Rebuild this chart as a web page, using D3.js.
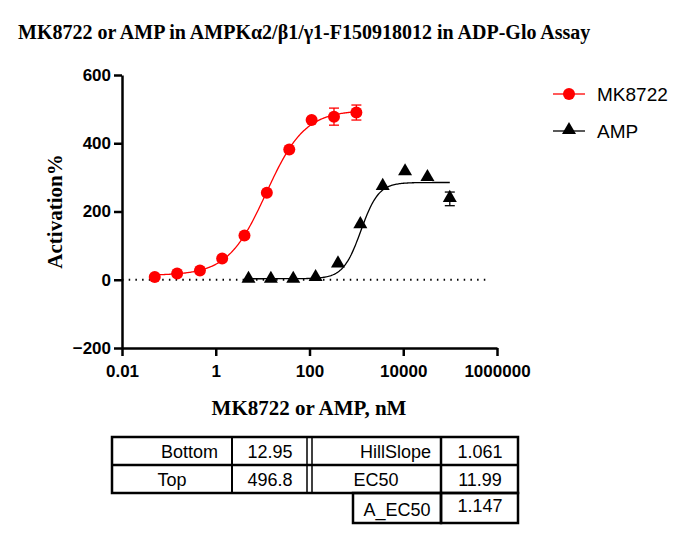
<!DOCTYPE html><html><head><meta charset="utf-8"><script src="https://cdn.jsdelivr.net/npm/d3@7"></script>
<style>body{margin:0;background:#fff}</style></head><body><svg width="691" height="547"></svg><script>
const redX=[0.05,0.15,0.46,1.37,4.1,12.3,37,111,333,1000];
const redY=[8,18,27,62,130,255,382,468,478,490];
const redErr=[0,0,0,0,0,0,0,0,25,22];
const ampX=[5,15,45,135,405,1215,3645,10935,32805,98415];
const ampY=[0,0,0,5,45,160,272,315,298,237];
const ampErr=[0,0,0,0,0,0,0,0,0,20];
const redFit={bottom:12.95,top:496.8,ec50:11.99,hill:1.061};
const ampFit={bottom:3,top:285,ec50:1250,hill:2.3};
const xTicks=[0.01,1,100,10000,1000000];
const yTicks=[-200,0,200,400,600];
const tableRows=[["Bottom","12.95","HillSlope","1.061"],["Top","496.8","EC50","11.99"]];
const extra=["A_EC50","1.147"];
const svg=d3.select("svg");
const x=d3.scaleLog().domain([0.01,1e6]).range([122,497]);
const y=d3.scaleLinear().domain([-200,600]).range([348,75]);
svg.append("text").attr("x",18).attr("y",39).attr("font-family","Liberation Serif").attr("font-weight","bold").attr("font-size",20).text("MK8722 or AMP in AMPKα2/β1/γ1-F150918012 in ADP-Glo Assay");
const ax=svg.append("g").attr("transform","translate(0,348)").call(d3.axisBottom(x).tickValues(xTicks).tickFormat(d=>String(d)).tickSize(8).tickSizeOuter(0));
const ay=svg.append("g").attr("transform","translate(122,0)").call(d3.axisLeft(y).tickValues(yTicks).tickSize(8).tickSizeOuter(0));
[ax,ay].forEach(g=>{g.selectAll("path,line").attr("stroke","#000").attr("stroke-width",2.5);g.selectAll("text").attr("font-family","Liberation Sans").attr("font-weight","bold").attr("font-size",17).attr("fill","#000");});
ax.selectAll("text").attr("dy","1.05em");
svg.append("line").attr("x1",122).attr("x2",490).attr("y1",y(0)).attr("y2",y(0)).attr("stroke","#000").attr("stroke-width",2).attr("stroke-dasharray","1.5,5.2");
svg.append("text").attr("transform","translate(62,"+y(200)+") rotate(-90)").attr("text-anchor","middle").attr("font-family","Liberation Serif").attr("font-weight","bold").attr("font-size",21).text("Activation%");
svg.append("text").attr("x",309).attr("y",415).attr("text-anchor","middle").attr("font-family","Liberation Serif").attr("font-weight","bold").attr("font-size",21).text("MK8722 or AMP, nM");
function curve(f,x0,x1,col){const pts=d3.range(0,201).map(i=>{const lx=Math.log10(x0)+(Math.log10(x1)-Math.log10(x0))*i/200;const xv=10**lx;return [x(xv),y(f.bottom+(f.top-f.bottom)/(1+10**((Math.log10(f.ec50)-lx)*f.hill)))];});
svg.append("path").attr("d",d3.line()(pts)).attr("fill","none").attr("stroke",col).attr("stroke-width",1.3);}
curve(redFit,0.05,1000,"#f00");curve(ampFit,5,98415,"#000");
function errs(X,Y,E,col){X.forEach((xv,i)=>{if(!E[i])return;const g=svg.append("g").attr("stroke",col).attr("stroke-width",1.3);g.append("line").attr("x1",x(xv)).attr("x2",x(xv)).attr("y1",y(Y[i]-E[i])).attr("y2",y(Y[i]+E[i]));[Y[i]-E[i],Y[i]+E[i]].forEach(v=>g.append("line").attr("x1",x(xv)-5).attr("x2",x(xv)+5).attr("y1",y(v)).attr("y2",y(v)));});}
errs(redX,redY,redErr,"#f00");errs(ampX,ampY,ampErr,"#000");
svg.selectAll(".r").data(redX).enter().append("circle").attr("cx",d=>x(d)).attr("cy",(d,i)=>y(redY[i])).attr("r",6).attr("fill","#f00");
const tri=d3.symbol().type(d3.symbolTriangle).size(85);
svg.selectAll(".a").data(ampX).enter().append("path").attr("d",tri).attr("transform",(d,i)=>`translate(${x(d)},${y(ampY[i])-1})`).attr("fill","#000");
[["MK8722","#f00","c",94],["AMP","#000","t",131]].forEach(([t,c,s,yy])=>{svg.append("line").attr("x1",553).attr("x2",585).attr("y1",yy).attr("y2",yy).attr("stroke",c).attr("stroke-width",1.3);
if(s=="c")svg.append("circle").attr("cx",569).attr("cy",yy).attr("r",6).attr("fill",c);else svg.append("path").attr("d",tri).attr("transform",`translate(569,${yy-1})`).attr("fill",c);
svg.append("text").attr("x",597).attr("y",yy+7).attr("font-family","Liberation Sans").attr("font-size",19).text(t);});
const T=svg.append("g").attr("font-family","Liberation Sans").attr("font-size",18);
const rowsY=[437,465,493];
const rect=(x0,y0,w,h)=>T.append("rect").attr("x",x0).attr("y",y0).attr("width",w).attr("height",h).attr("fill","none").attr("stroke","#000").attr("stroke-width",2.5);
rect(112,437,406,56);
T.append("line").attr("x1",112).attr("x2",518).attr("y1",465).attr("y2",465).attr("stroke","#000").attr("stroke-width",2.5);
[[232,2],[307,1.5],[312,1.5],[441,2.5]].forEach(([c,w])=>T.append("line").attr("x1",c).attr("x2",c).attr("y1",437).attr("y2",493).attr("stroke","#000").attr("stroke-width",w));
const cx=[[218,"end"],[270,"middle"],[431,"end"],[480,"middle"]];
tableRows.forEach((r,ri)=>r.forEach((v,ci)=>{let xx=cx[ci][0],an=cx[ci][1];if(ri==1&&ci==0){xx=172;an="middle"}if(ri==1&&ci==2){xx=376;an="middle"}
T.append("text").attr("x",xx).attr("y",rowsY[ri]+21).attr("text-anchor",an).text(v);}));
rect(353,493,88,30);rect(441,493,77,30);
T.append("text").attr("x",397).attr("y",516).attr("text-anchor","middle").text(extra[0]);
T.append("text").attr("x",480).attr("y",512).attr("text-anchor","middle").text(extra[1]);
</script></body></html>
